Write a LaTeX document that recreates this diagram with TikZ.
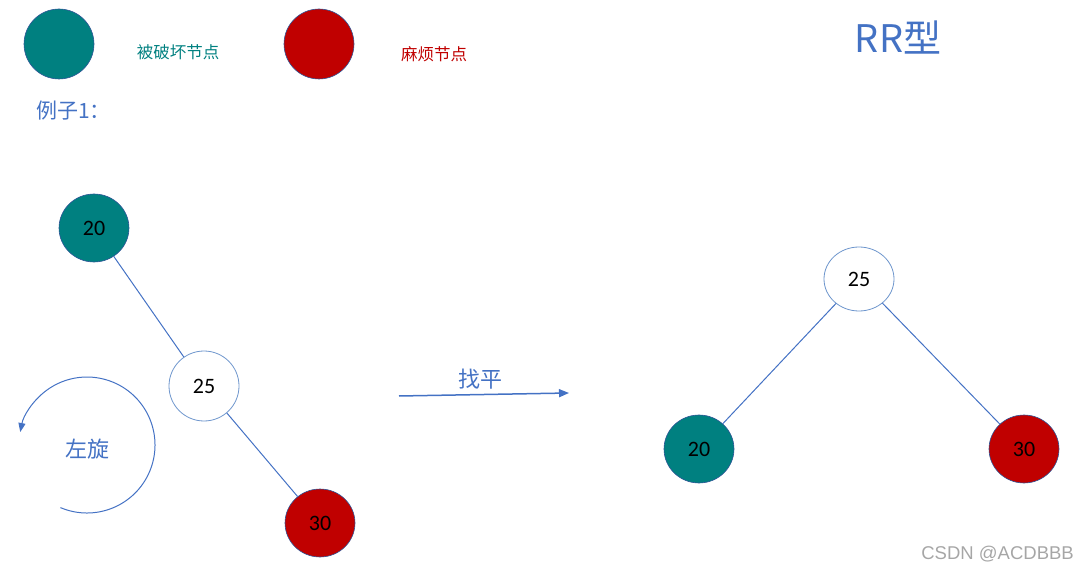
\documentclass[tikz,border=0pt]{standalone}
\usepackage{fontspec}
\setmainfont{Carlito}
\newfontfamily\cjk{Noto Sans CJK SC}
\newfontfamily\wm{Liberation Sans}
\usetikzlibrary{shapes.geometric,arrows.meta,calc}
\definecolor{teal1}{RGB}{0,128,128}
\definecolor{red1}{RGB}{192,0,0}
\definecolor{blue1}{RGB}{68,114,196}
\definecolor{rim}{RGB}{47,85,151}
\definecolor{rimlight}{RGB}{110,150,205}
\tikzset{
  nd/.style={ellipse,minimum width=70pt,minimum height=68pt,inner sep=0pt,font=\fontsize{22}{22}\selectfont,text=black},
  tealnd/.style={nd,fill=teal1,draw=rim,line width=0.6pt},
  rednd/.style={nd,fill=red1,draw=rim,line width=0.6pt},
  whitend/.style={nd,fill=white,draw=rimlight,line width=0.8pt},
  edge/.style={draw=blue1,line width=1pt},
  lbl/.style={font=\cjk\fontsize{21}{21}\selectfont,text=blue1,inner sep=0pt},
}
\begin{document}
\begin{tikzpicture}[x=1pt,y=-1pt]
\useasboundingbox (0,0) rectangle (1077,572);
% legend
\node[tealnd,minimum height=70pt] (legT) at (59,44) {};
\node[font=\cjk\fontsize{16.5}{16.5}\selectfont,text=teal1,inner sep=0pt] (legTt) at (178,52) {被破坏节点};
\node[rednd,minimum height=70pt] (legR) at (319,44) {};
\node[font=\cjk\fontsize{16.5}{16.5}\selectfont,text=red1,inner sep=0pt] (legRt) at (434,54) {麻烦节点};
\node[lbl,anchor=west] (ex) at (36,111) {例子1：};
\node[font=\cjk\fontsize{38}{38}\selectfont,text=blue1,inner sep=0pt] (title) at (898,38) {RR型};
% left tree
\node[tealnd] (a20) at (94,228) {20};
\node[whitend,minimum height=70pt] (a25) at (204,386) {25};
\node[rednd] (a30) at (320,523) {30};
\draw[edge] (a20) -- (a25);
\draw[edge] (a25) -- (a30);
% rotation arc
\coordinate (rc) at (87,445);
\draw[blue1,line width=1pt,-{Triangle[length=9pt,width=7pt]}] ($(rc)+(-247:68)$) arc[start angle=-247,end angle=-529,radius=68];
\node[lbl,font=\cjk\fontsize{22}{22}\selectfont] (zx) at (87,449) {左旋};
% balancing arrow
\coordinate (p1) at (399,396);
\coordinate (p2) at (569,393);
\draw[blue1,line width=1.5pt,-{Triangle[length=10pt,width=8pt]}] (p1) -- (p2);
\node[lbl,font=\cjk\fontsize{22}{22}\selectfont] (zp) at (480,379) {找平};
% right tree
\node[whitend,minimum height=64pt] (b25) at (859,279) {25};
\node[tealnd] (b20) at (699,449) {20};
\node[rednd] (b30) at (1024,449) {30};
\draw[edge] (b25) -- (b20);
\draw[edge] (b25) -- (b30);
% watermark
\node[font=\wm\fontsize{18.5}{18.5}\selectfont,text=black!35,anchor=east,inner sep=0pt] (wmk) at (1074,554) {CSDN @ACDBBB};
\end{tikzpicture}
\end{document}
